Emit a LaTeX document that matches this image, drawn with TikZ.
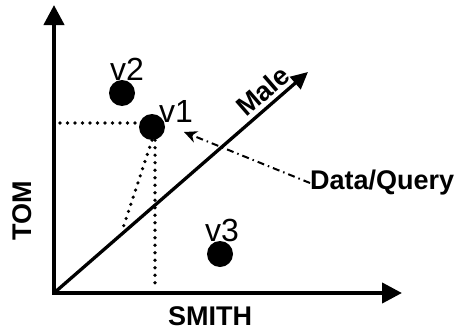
\documentclass[tikz,border=0pt]{standalone}
\usepackage{fontspec}
\setmainfont{Liberation Sans}
\usetikzlibrary{arrows.meta}

\begin{document}
\begin{tikzpicture}[
    x=1pt, y=1pt,
    axis/.style={line width=4.2pt, {Triangle[length=20pt,width=20pt]}-{Triangle[length=20pt,width=20pt]}},
    maleaxis/.style={line width=3.3pt, -{Triangle[length=17pt,width=16pt]}},
    point/.style={circle, fill=black, inner sep=0pt, minimum size=26pt},
    vlabel/.style={font=\fontsize{32}{32}\selectfont, inner sep=0pt},
    axislabel/.style={font=\fontsize{27}{27}\selectfont\bfseries, inner sep=0pt},
    proj/.style={line width=3.6pt, line cap=round, dash pattern=on 0pt off 7.5pt},
    query/.style={line width=2pt, dash pattern=on 7pt off 4pt on 1.5pt off 4pt, -{Stealth[length=13pt,width=12pt]}}
  ]
    \useasboundingbox (0,0) rectangle (468,333);

    \coordinate (O) at (54,40);
    \coordinate (ytip) at (54,328);
    \coordinate (xtip) at (402,40);
    \coordinate (maletip) at (308,261);
    \coordinate (hfoot) at (60,210);
    \coordinate (vfoot) at (155,43);
    \coordinate (mfoot) at (123,105);
    \coordinate (qtip) at (184,201);

    \node[point] (v1) at (152,206) {};
    \node[point] (v2) at (122,240) {};
    \node[point] (v3) at (220,79) {};
    \node[vlabel] (v1lab) at (176,222) {v1};
    \node[vlabel] (v2lab) at (127,264) {v2};
    \node[vlabel] (v3lab) at (222,103) {v3};

    \node[axislabel] (smith) at (210,17) {SMITH};
    \node[axislabel, rotate=90] (tom) at (22,122) {TOM};
    \node[axislabel, rotate=41] (male) at (263,242) {Male};
    \node[axislabel, anchor=west] (query) at (310,150) {Data/Query};

    \draw[axis] (ytip) -- (O) -- (xtip);
    \draw[maleaxis] (O) -- (maletip);

    \draw[proj] (hfoot) -- (hfoot -| v1.west);
    \draw[proj] (vfoot |- v1.south) -- (vfoot);
    \draw[proj] (v1.south) -- (mfoot);

    \draw[query] (query.west) -- (qtip);
  \end{tikzpicture}
\end{document}
